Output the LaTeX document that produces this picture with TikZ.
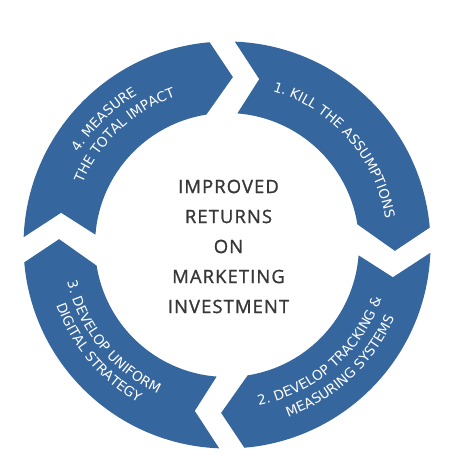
\documentclass[tikz,border=0pt]{standalone}
\usepackage{fontspec}
\setmainfont{Open Sans}
\newfontfamily\centerfont[LetterSpace=6,FakeBold=1.2]{Open Sans}
\newfontfamily\segfamily{DejaVu Sans}
\usetikzlibrary{decorations.text}
\definecolor{segblue}{RGB}{54,102,158}
\definecolor{centergray}{RGB}{55,55,55}
\newcommand\segfont{\segfamily\fontsize{13.6bp}{16bp}\selectfont}
\newcommand\arctext[4]{%
  \path[decorate, decoration={text along path, text align=center, text color=white,
    text={|\segfont|#4}}] (#2:#1) arc[start angle=#2, end angle=#3, radius=#1];}
\tikzset{
  seg/.style={fill=segblue, draw=none},
  centertext/.style={font=\centerfont\fontsize{18.4bp}{30bp}\selectfont, text=centergray, align=center}
}
\begin{document}
\begin{tikzpicture}[x=1bp,y=1bp]
\useasboundingbox (-227,-225) rectangle (233,245);
\foreach \a in {90,0,-90,-180}{
  \fill[seg] (\a-2.2:203.5bp) arc[start angle=\a-2.2, end angle=\a-85.1, radius=203.5bp]
    -- (\a-92:168bp) -- (\a-81:132bp)
    arc[start angle=\a-81, end angle=\a-4.5, radius=132bp]
    -- (\a-11:169bp) -- cycle;
}
\arctext{160.5bp}{81.5}{1.5}{1. KILL THE ASSUMPTIONS}
\arctext{163.5bp}{-89}{-9}{2. DEVELOP TRACKING {\&}}
\arctext{182.5bp}{-87}{-7}{MEASURING SYSTEMS}
\arctext{164bp}{179}{259}{3. DEVELOP UNIFORM}
\arctext{181bp}{180}{260}{DIGITAL STRATEGY}
\arctext{175bp}{174.5}{94.5}{4. MEASURE}
\arctext{157bp}{173}{93}{THE TOTAL IMPACT}
\node[centertext] (center) at (1.5,-1.5) {IMPROVED\\RETURNS\\ON\\MARKETING\\INVESTMENT};
\end{tikzpicture}
\end{document}
